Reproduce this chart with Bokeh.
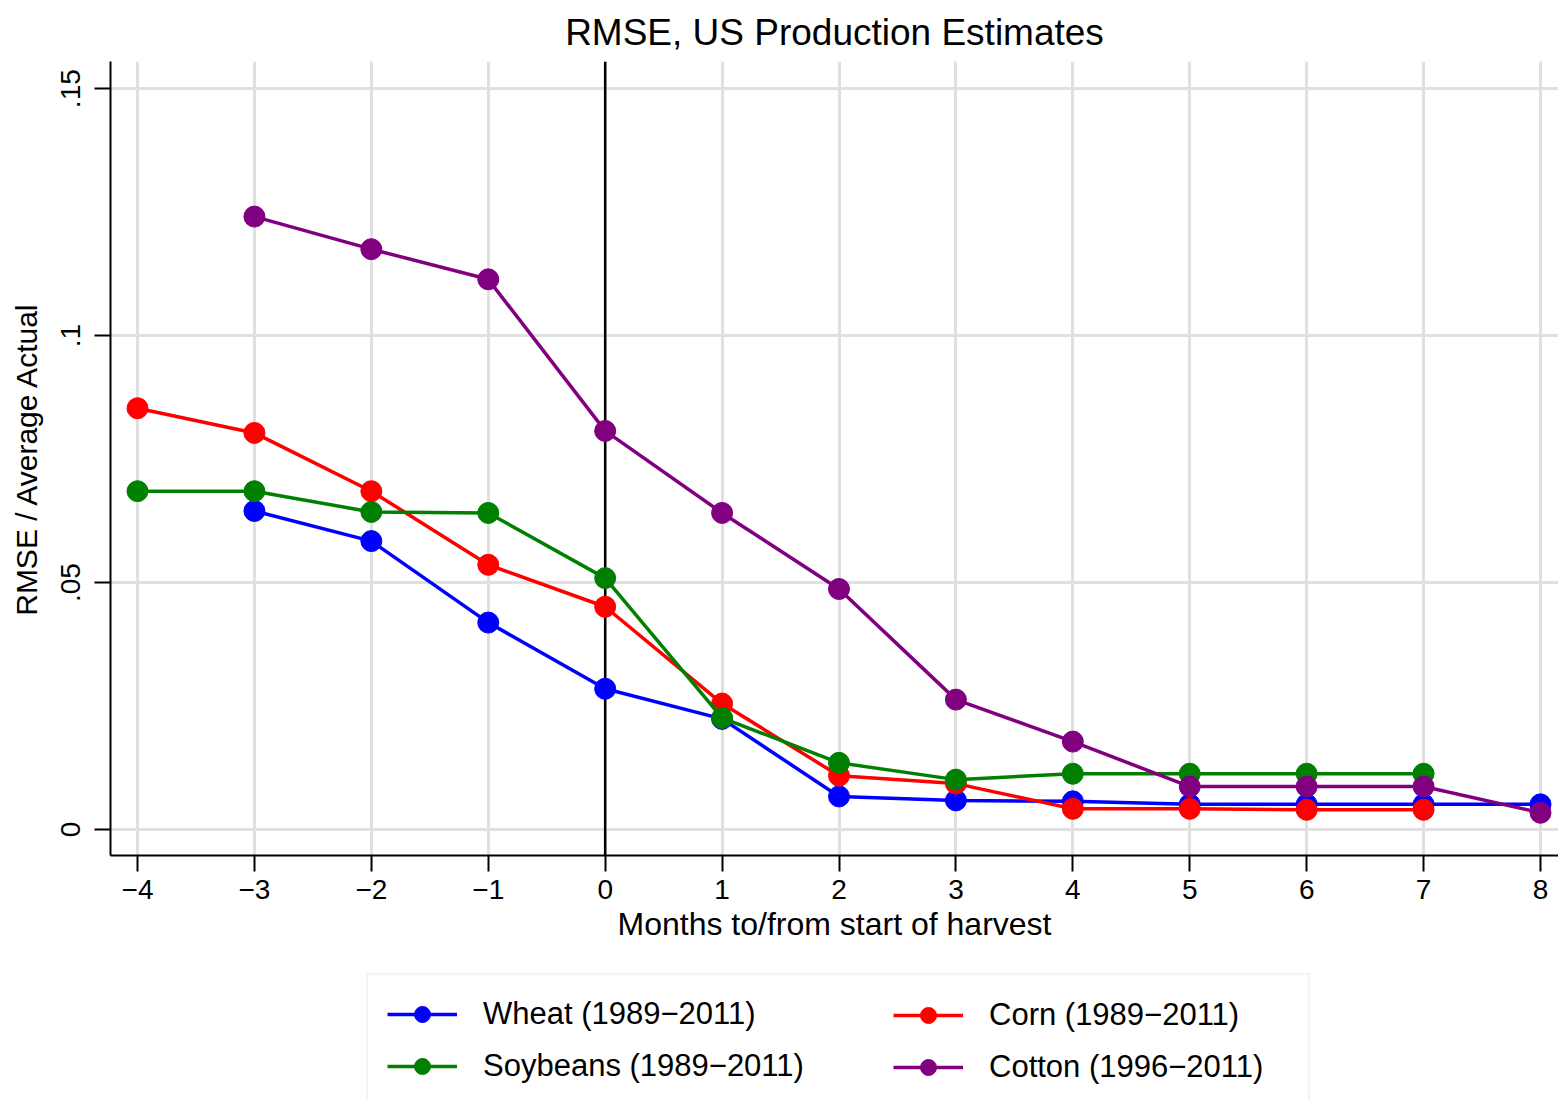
from bokeh.plotting import figure
from bokeh.layouts import column
from bokeh.models import (FixedTicker, CustomJSTickFormatter, Span, Legend,
                          LegendItem, Range1d)
from bokeh.embed import file_html
from bokeh.resources import INLINE

FONT = "Liberation Sans"

# Months relative to the start of harvest
months = [-4, -3, -2, -1, 0, 1, 2, 3, 4, 5, 6, 7, 8]

# RMSE divided by the average actual value, by crop (None = no estimate)
wheat = [None, 0.0645, 0.0584, 0.0419, 0.0285, 0.0224, 0.0067, 0.0059,
         0.0057, 0.0051, 0.0051, 0.0051, 0.0051]
corn = [0.0853, 0.0803, 0.0685, 0.0536, 0.0451, 0.0255, 0.0109, 0.0093,
        0.0042, 0.0042, 0.0040, 0.0040, None]
soybeans = [0.0685, 0.0685, 0.0643, 0.0641, 0.0509, 0.0226, 0.0135, 0.0101,
            0.0113, 0.0113, 0.0113, 0.0113, None]
cotton = [None, 0.1241, 0.1175, 0.1114, 0.0807, 0.0641, 0.0487, 0.0263,
          0.0178, 0.0087, 0.0087, 0.0087, 0.0034]

series = [
    ("Wheat (1989\u22122011)", wheat, "#0000ff"),
    ("Corn (1989\u22122011)", corn, "#ff0000"),
    ("Soybeans (1989\u22122011)", soybeans, "#008000"),
    ("Cotton (1996\u22122011)", cotton, "#800080"),
]

y_ticks = [0, 0.05, 0.1, 0.15]

p = figure(width=1558, height=950, output_backend="svg", toolbar_location=None,
           x_range=Range1d(-4.231, 8.154), y_range=Range1d(-0.00526, 0.1555),
           min_border_left=110, min_border_right=0, min_border_top=60,
           min_border_bottom=95, outline_line_color=None,
           background_fill_color="white", border_fill_color="white")

p.title.text = "RMSE, US Production Estimates"
p.title.align = "center"
p.title.text_font = FONT
p.title.text_font_size = "37px"
p.title.text_font_style = "normal"
p.title.text_color = "black"
p.title.standoff = 18

# grid
for g in (p.xgrid, p.ygrid):
    g.grid_line_color = "#e0e0e0"
    g.grid_line_width = 3
p.xgrid.ticker = FixedTicker(ticks=months)
p.ygrid.ticker = FixedTicker(ticks=y_ticks)

# axes
xa = p.xaxis[0]
xa.ticker = FixedTicker(ticks=months)
xa.formatter = CustomJSTickFormatter(
    code="return tick < 0 ? '\u2212' + Math.abs(tick) : String(tick);")
xa.axis_label = "Months to/from start of harvest"

ya = p.yaxis[0]
ya.ticker = FixedTicker(ticks=y_ticks)
ya.formatter = CustomJSTickFormatter(
    code="if (tick == 0) { return '0'; }"
         " var s = tick.toFixed(2).replace(/^0/, ''); return s.replace(/0$/, '');")
ya.axis_label = "RMSE / Average Actual"
ya.major_label_orientation = "vertical"

for ax in (xa, ya):
    ax.axis_line_color = "black"
    ax.axis_line_width = 2
    ax.major_tick_line_color = "black"
    ax.major_tick_line_width = 2
    ax.major_tick_out = 16
    ax.major_tick_in = 0
    ax.minor_tick_line_color = None
    ax.major_label_text_font = FONT
    ax.major_label_text_font_size = "28px"
    ax.major_label_text_color = "black"
    ax.axis_label_text_font = FONT
    ax.axis_label_text_font_style = "normal"
    ax.axis_label_text_color = "black"
xa.major_label_standoff = 8
xa.axis_label_standoff = 4
xa.axis_label_text_font_size = "32px"
ya.major_label_standoff = 14
ya.axis_label_standoff = 16
ya.axis_label_text_font_size = "30px"

# harvest start marker
p.add_layout(Span(location=0, dimension="height", line_color="black",
                  line_width=2.5, level="underlay"))

for label, vals, color in series:
    xs = [m for m, v in zip(months, vals) if v is not None]
    ys = [v for v in vals if v is not None]
    p.line(xs, ys, line_color=color, line_width=3.5)
    p.scatter(xs, ys, marker="circle", size=21, fill_color=color,
              line_color=color)

# key strip below the chart (same side borders so the frames line up)
k = figure(width=1558, height=151, output_backend="svg", toolbar_location=None,
           x_range=Range1d(100, 101), y_range=Range1d(100, 101),
           x_axis_location=None, y_axis_location=None,
           min_border_left=110, min_border_right=0, min_border_top=0,
           min_border_bottom=0, outline_line_color=None,
           background_fill_color="white", border_fill_color="white")
k.grid.visible = False

key_items = {}
for label, vals, color in series:
    xs = [m for m, v in zip(months, vals) if v is not None]
    ys = [v for v in vals if v is not None]
    lr = k.line(xs, ys, line_color=color, line_width=3.5)
    sr = k.scatter(xs, ys, marker="circle", size=21, fill_color=color,
                   line_color=color)
    key_items[label] = LegendItem(label=label, renderers=[lr, sr])

labels = [s[0] for s in series]
key_style = dict(label_text_font=FONT, label_text_font_size="31px",
                 label_text_color="black", glyph_width=70, glyph_height=40,
                 label_height=40, label_standoff=26, spacing=12, margin=0)
# left column carries the key's frame: its label width stretches the box
left_key = Legend(items=[key_items[labels[0]], key_items[labels[2]]],
                  location=(256, -6), padding=19, label_width=806,
                  border_line_color="#e6ecee", border_line_width=2,
                  background_fill_color="white", background_fill_alpha=1.0,
                  **key_style)
right_key = Legend(items=[key_items[labels[1]], key_items[labels[3]]],
                   location=(783, 14), padding=0, border_line_color=None,
                   background_fill_alpha=0, **key_style)
k.add_layout(left_key, "center")
k.add_layout(right_key, "center")

open("out.html", "w").write(file_html(column(p, k, spacing=0), INLINE))
